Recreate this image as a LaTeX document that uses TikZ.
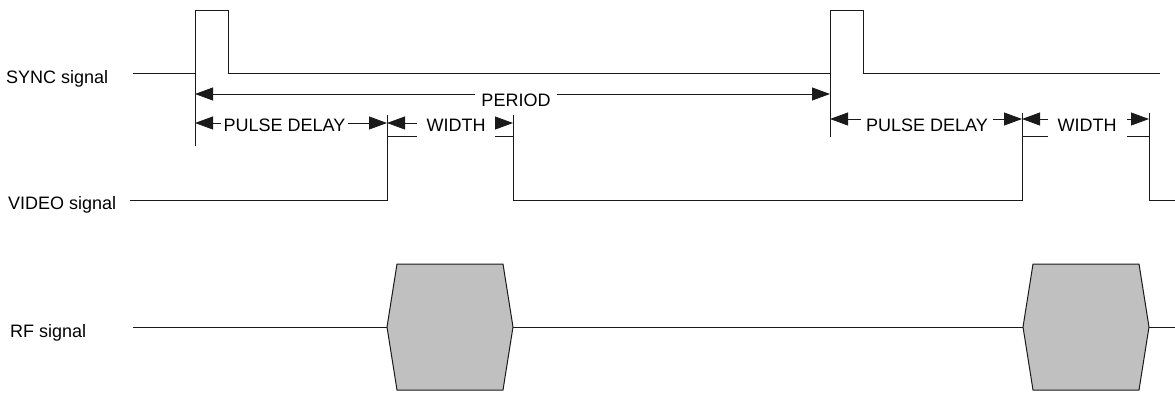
\documentclass[tikz,border=0pt]{standalone}
\usepackage{fontspec}
\setmainfont{Liberation Sans}
\usepackage{tikz}
\usetikzlibrary{arrows.meta}
\definecolor{burstgray}{HTML}{C0C0C0}
\definecolor{waveink}{HTML}{1A1A1A}

\begin{document}
\begin{tikzpicture}[
    x=1pt, y=-1pt,
    every node/.style={font=\fontsize{18}{21}\selectfont, text height=12.9pt, text depth=0pt, inner sep=0pt},
    wave/.style={waveink, line width=1pt},
    dim/.style={{Triangle[length=18pt,width=13pt]}-{Triangle[length=18pt,width=13pt]}, waveink, line width=0.8pt},
    tag/.style={fill=white, minimum height=26pt},
    burst/.style={fill=burstgray, draw=waveink, line width=1pt},
  ]
  \useasboundingbox (0,0) rectangle (1175,397);

  \node[anchor=west] (synclbl) at (6,77) {SYNC signal};
  \node[anchor=west] (videolbl) at (8,203) {VIDEO signal};
  \node[anchor=west] (rflbl) at (10,331) {RF signal};

  \draw[wave] (133,73) -- (195,73) |- (228,10) |- (830,73) |- (863,10) |- (1160,73);
  \draw[wave] (130,200) -| (387,136) -| (513,200) -| (1022,136) -| (1149,200) -- (1175,200);
  \draw[wave] (133,327) -- (387,327) (513,327) -- (1023,327) (1149,327) -- (1175,327);

  \foreach \x in {387,1023}
    \filldraw[burst] (\x,327) -- ++(10,-63) -- ++(106,0) -- ++(10,63)
      -- ++(-10,63) -- ++(-106,0) -- cycle;

  \foreach \x/\ya/\yb in {195/73/146, 830/73/137, 387/136/115, 513/136/115, 1022/136/113, 1149/136/113}
    \draw[wave] (\x,\ya) -- (\x,\yb);

  \foreach \n/\x/\y in {perL/195/94, perR/830/94, pdA/195/123, wdA/387/123, endA/513/123,
                        pdB/830/119, wdB/1022/119, endB/1149/119}
    \coordinate (\n) at (\x,\y);

  \draw[dim] (perL) -- (perR);
  \draw[dim] (pdA) -- (wdA);
  \draw[dim] (wdA) -- (endA);
  \draw[dim] (pdB) -- (wdB);
  \draw[dim] (wdB) -- (endB);

  \node[tag, minimum height=20pt, minimum width=82pt] (period) at (516,100) {PERIOD};
  \node[tag, minimum width=127pt] (delayA) at (284.5,125) {PULSE DELAY};
  \node[tag, minimum width=78pt] (widthA) at (456,125) {WIDTH};
  \node[tag, minimum width=132pt] (delayB) at (927,125) {PULSE DELAY};
  \node[tag, minimum width=79pt] (widthB) at (1087,125) {WIDTH};
\end{tikzpicture}
\end{document}
